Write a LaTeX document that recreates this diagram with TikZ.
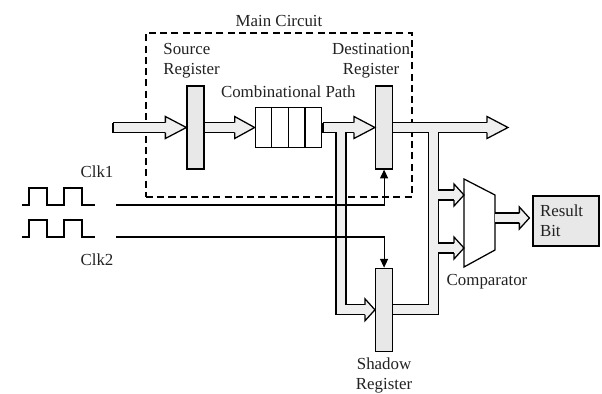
\documentclass[tikz,border=0pt,12pt]{standalone}
\usepackage{fontspec}
\setmainfont{Liberation Serif}
\usetikzlibrary{positioning,arrows.meta,calc}
\definecolor{busfill}{HTML}{EFEFEF}
\definecolor{regfill}{HTML}{E8E8E8}
\definecolor{ink}{HTML}{222222}

\begin{document}
\begin{tikzpicture}[
  x=0.025cm, y=-0.025cm,
  reg/.style={rectangle, draw, line width=0.9pt, fill=regfill, minimum width=0.425cm, minimum height=2.075cm, inner sep=0pt},
  lbl/.style={align=center, text=ink},
  bus/.style={draw, line width=0.9pt, double=busfill, double distance=6.2pt, line join=miter},
  clk/.style={draw, line width=0.8pt, -{Triangle[length=2.2mm, width=2mm]}},
  pics/bushead/.style={code={
    \fill[busfill] (0,0) -- (-#1,11) -- (-#1,-11) -- cycle;
    \draw[line width=0.9pt, line join=miter] (-#1,5) -- (-#1,11) -- (0,0) -- (-#1,-11) -- (-#1,-5);
  }}]
\useasboundingbox (0,0) rectangle (602,393);
% main circuit frame
\node[draw, dash pattern=on 5pt off 3pt, line width=0.8pt, minimum width=6.65cm, minimum height=4.1cm] (main) at (279,115) {};
\node[lbl, above=0pt of main] (maintitle) {Main Circuit};
% registers and logic
\node[reg] (src) at (195.5,127.5) {};
\node[draw, line width=0.9pt, fill=white, minimum width=1.65cm, minimum height=1cm, inner sep=0pt, right=1.25cm of src] (comb) {};
\foreach \i in {1,2,3}
  \draw[line width=0.9pt] ($(comb.north west)!\i/4!(comb.north east)$) -- ($(comb.south west)!\i/4!(comb.south east)$);
\node[reg, right=1.325cm of comb] (dst) {};
\node[reg, below=2.45cm of dst] (shd) {};
\coordinate (cmp) at (479.5,223);
\draw[line width=0.9pt, fill=white] ($(cmp)+(-15.5,-44)$) -- ($(cmp)+(15.5,-28)$) -- ($(cmp)+(15.5,27)$) -- ($(cmp)+(-15.5,44)$) -- cycle;
\coordinate (cin1) at ($(cmp)+(-15.5,-28)$);
\coordinate (cin2) at ($(cmp)+(-15.5,25)$);
\coordinate (cout) at ($(cmp)+(15.5,-5)$);
\node[draw, line width=0.9pt, fill=regfill, minimum width=1.65cm, minimum height=1.25cm, text width=1.3cm, align=left, text=ink] (res) at (566,221) {Result\\Bit};
% labels
\node[lbl, align=left, above=1pt of src, xshift=-0.1cm] (srclbl) {Source\\Register};
\node[lbl, above=2pt of comb] (comblbl) {Combinational Path};
\node[lbl, above=1pt of dst, xshift=-0.325cm] (dstlbl) {Destination\\Register};
\node[lbl, below=0pt of shd] (shdlbl) {Shadow\\Register};
\node[lbl] (cmplbl) at (487,282) {Comparator};
\node[lbl] (clkalbl) at (97,172) {Clk1};
\node[lbl] (clkblbl) at (97,260) {Clk2};
% buses
\coordinate (tin) at (113,127.5);
\coordinate (tcomb) at (323,127.5);
\coordinate (tap1) at (341,127.5);
\coordinate (tap2) at (433.5,127.5);
\coordinate (tout) at (508,127.5);
\draw[bus] (tin) -- ($(src.west)+(-13,0)$);
\draw[bus] (src.east) -- ($(comb.west)+(-12,0)$);
\draw[bus] (tcomb) -- ($(dst.west)+(-13,0)$) (tap1) -- (tap1 |- shd.west) -- ($(shd.west)+(-6,0)$);
\draw[bus] (dst.east) -- ($(tout)+(-13,0)$) (tap2) -- (tap2 |- shd.east) -- (shd.east)
  (tap2 |- cin1) -- ($(cin1)+(-6,0)$) (tap2 |- cin2) -- ($(cin2)+(-6,0)$);
\draw[bus] (cout) -- ($(res.west |- cout)+(-9,0)$);
\draw[line width=0.9pt] (tin) ++(0,-5) -- ++(0,10);
\draw[line width=0.9pt] (tcomb) ++(0,-5) -- ++(0,10);
\pic at (src.west) {bushead=21};
\pic at (comb.west) {bushead=20};
\pic at (dst.west) {bushead=21};
\pic at (shd.west) {bushead=10};
\pic at (tout) {bushead=21};
\pic at (cin1) {bushead=10};
\pic at (cin2) {bushead=10};
\pic at ($(res.west |- cout)+(-3,0)$) {bushead=10};
% clocks
\foreach \y in {205,237}
  \draw[line width=0.8pt] (22,\y) -- ++(7,0) -- ++(0,-17) -- ++(18,0) -- ++(0,17) -- ++(17,0) -- ++(0,-17) -- ++(18,0) -- ++(0,17) -- ++(13,0);
\coordinate (clka) at (116,205);
\coordinate (clkb) at (116,237);
\draw[clk] (clka) -| (dst.south);
\draw[clk] (clkb) -| (shd.north);
\end{tikzpicture}
\end{document}
